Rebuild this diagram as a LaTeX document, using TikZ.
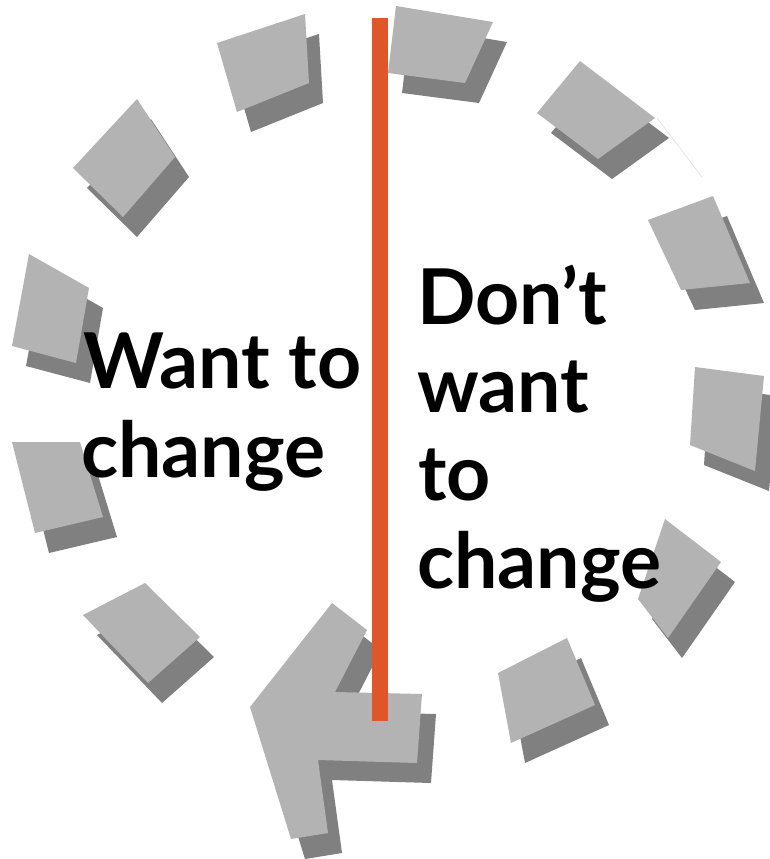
\documentclass[tikz,border=0pt]{standalone}
\usepackage{fontspec}
\setmainfont{Lato}
\usepackage{tikz}
\usetikzlibrary{positioning}
\definecolor{tilegray}{HTML}{B3B3B3}
\definecolor{shadowgray}{HTML}{808080}
\definecolor{divider}{HTML}{E0552A}

% one piece of the ring, with its shadow
\newcommand{\ringtile}[4]{%
  \fill[tileshadow,shift={(14,20)}] #1 -- #2 -- #3 -- #4 -- cycle;
  \fill[tile] #1 -- #2 -- #3 -- #4 -- cycle;}

\begin{document}
\begin{tikzpicture}[
    x=1pt,y=-1pt,
    tile/.style={fill=tilegray},
    tileshadow/.style={fill=shadowgray},
    side/.style={font=\fontsize{77}{89}\selectfont\bfseries,anchor=base west,inner sep=0pt}
]
\useasboundingbox (0,0) rectangle (769,859);

% ring
\ringtile{(217,43)}{(305,14)}{(309,83)}{(237,112)}
\ringtile{(396,6)}{(493,22)}{(465,83)}{(388,73)}
\ringtile{(537,113)}{(580,61)}{(655,118)}{(598,159)}
\ringtile{(648,220)}{(713,196)}{(750,283)}{(681,290)}
\ringtile{(695,367)}{(764,376)}{(755,471)}{(690,445)}
\ringtile{(638,599)}{(665,519)}{(721,562)}{(668,638)}
\ringtile{(498,673)}{(567,638)}{(595,705)}{(511,743)}
\ringtile{(83,615)}{(145,583)}{(200,637)}{(148,683)}
\ringtile{(12,442)}{(80,442)}{(103,517)}{(35,533)}
\ringtile{(29,254)}{(89,288)}{(76,363)}{(12,346)}
\ringtile{(73,168)}{(137,99)}{(175,157)}{(123,217)}
\draw[gray!25,line width=0.6] (657,118) -- (702,177);

% arrow head
\fill[tileshadow,shift={(14,20)}] (332,603) -- (367,630) -- (335,692) -- (422,694) -- (417,763)
  -- (318,760) -- (328,833) -- (291,839) -- (250,707) -- cycle;
\fill[tile] (332,603) -- (367,630) -- (335,692) -- (422,694) -- (417,763)
  -- (318,760) -- (328,833) -- (291,839) -- (250,707) -- cycle;

\fill[divider] (372,18) rectangle (388,721);

\node[side] (want1) at (83,388) {Want to};
\node[side] (want2) at (81,477) {change};
\node[side] (dont1) at (417,324) {Don’t};
\node[side] (dont2) at (417,412) {want};
\node[side] (dont3) at (418,500) {to};
\node[side] (dont4) at (417,588) {change};
\end{tikzpicture}
\end{document}
